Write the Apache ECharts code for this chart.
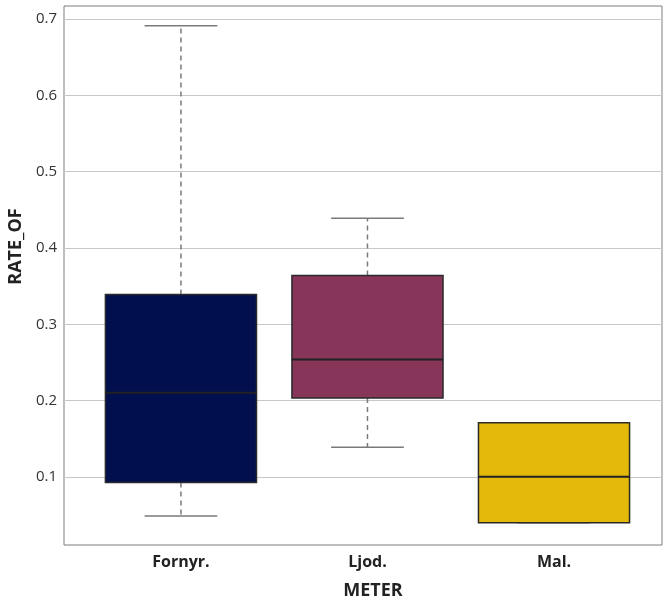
<!DOCTYPE html>
<html>
<head>
<meta charset="utf-8">
<script src="https://cdn.jsdelivr.net/npm/echarts@6/dist/echarts.min.js"></script>
<style>
  html, body { margin: 0; padding: 0; background: #fff; }
  #chart { width: 663px; height: 598px; }
</style>
</head>
<body>
<div id="chart"></div>
<script>
// Box-plot summary of RATE_OF per metre
const meters = ['Fornyr.', 'Ljod.', 'Mal.'];
const whiskerLow  = [0.049, 0.139, 0.040];
const quart1      = [0.093, 0.2035, 0.040];
const medians     = [0.2105, 0.254, 0.1004];
const quart3      = [0.339, 0.364, 0.171];
const whiskerHigh = [0.691, 0.439, 0.171];
const yTicks = [0.1, 0.2, 0.3, 0.4, 0.5, 0.6, 0.7];
const boxColors = ['#020f4e', '#873559', '#e5b90a'];

const rows = meters.map((m, i) => [i, whiskerLow[i], quart1[i], medians[i], quart3[i], whiskerHigh[i]]);

function renderBox(params, api) {
  const i = api.value(0);
  const lo = api.coord([i, api.value(1)]);
  const b1 = api.coord([i, api.value(2)]);
  const md = api.coord([i, api.value(3)]);
  const b3 = api.coord([i, api.value(4)]);
  const hi = api.coord([i, api.value(5)]);
  const cx = lo[0];
  const boxW = api.size([0.81, 0])[0];
  const capW = api.size([0.39, 0])[0];
  const whisk = { stroke: '#7a7a7a', lineWidth: 1.5, lineDash: [5, 4] };
  const cap = { stroke: '#7a7a7a', lineWidth: 1.5 };
  return {
    type: 'group',
    children: [
      { type: 'line', shape: { x1: cx, y1: b3[1], x2: cx, y2: hi[1] }, style: whisk },
      { type: 'line', shape: { x1: cx, y1: b1[1], x2: cx, y2: lo[1] }, style: whisk },
      { type: 'line', shape: { x1: cx - capW / 2, y1: hi[1], x2: cx + capW / 2, y2: hi[1] }, style: cap },
      { type: 'line', shape: { x1: cx - capW / 2, y1: lo[1], x2: cx + capW / 2, y2: lo[1] }, style: cap },
      { type: 'rect', shape: { x: cx - boxW / 2, y: b3[1], width: boxW, height: b1[1] - b3[1] },
        style: { fill: boxColors[i], stroke: '#2a2a2a', lineWidth: 1.5 } },
      { type: 'line', shape: { x1: cx - boxW / 2, y1: md[1], x2: cx + boxW / 2, y2: md[1] },
        style: { stroke: '#222', lineWidth: 2 } }
    ]
  };
}

const chart = echarts.init(document.getElementById('chart'), null, { renderer: 'canvas' });
chart.setOption({
  animation: false,
  backgroundColor: '#fff',
  grid: {
    left: 64, right: 1, top: 6, bottom: 53,
    outerBoundsMode: 'none', containLabel: false,
    show: true, borderColor: '#7d7d7d', borderWidth: 1, backgroundColor: 'transparent'
  },
  xAxis: {
    type: 'value',
    min: -0.627,
    max: 2.579,
    name: 'METER',
    nameLocation: 'middle',
    nameGap: 37,
    nameTextStyle: { fontFamily: 'Open Sans', fontWeight: 'bold', fontSize: 18, color: '#222', padding: [0, 0, 0, 20] },
    axisLine: { show: false },
    axisTick: { show: false },
    splitLine: { show: false },
    axisLabel: {
      customValues: [0, 1, 2],
      formatter: v => meters[Math.round(v)],
      margin: 9,
      fontFamily: 'Open Sans', fontWeight: 'bold', fontSize: 16, color: '#222'
    }
  },
  yAxis: {
    type: 'value',
    min: 0.011,
    max: 0.717,
    name: 'RATE_OF',
    nameLocation: 'middle',
    nameGap: 38,
    nameTextStyle: { fontFamily: 'Open Sans', fontWeight: 'bold', fontSize: 18, color: '#222', padding: [0, 0, 0, 58] },
    axisLine: { show: false },
    axisTick: { show: false, customValues: yTicks },
    splitLine: { show: true, lineStyle: { color: '#c8c8c8', width: 1 } },
    axisLabel: {
      customValues: yTicks,
      formatter: v => v.toFixed(1),
      margin: 7,
      fontFamily: 'Open Sans', fontSize: 15, color: '#333'
    }
  },
  series: [{
    type: 'custom',
    renderItem: renderBox,
    encode: { x: 0, y: [1, 2, 3, 4, 5] },
    data: rows,
    silent: true
  }]
});
</script>
</body>
</html>
